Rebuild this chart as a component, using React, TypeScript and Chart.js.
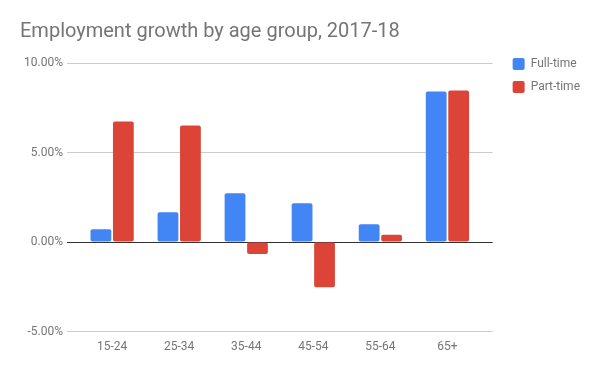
import React, { useEffect, useRef } from "react";
import { Chart, registerables } from "chart.js";

Chart.register(...registerables);

const categories = ["15-24", "25-34", "35-44", "45-54", "55-64", "65+"];
const fullTime = [0.72, 1.67, 2.73, 2.17, 1.0, 8.41];
const partTime = [6.74, 6.51, -0.67, -2.53, 0.41, 8.46];
const yTicks = [-5, 0, 5, 10];

const legendShift = {
  id: "legendShift",
  afterLayout(chart: any) {
    const lg = chart.legend;
    if (!lg) return;
    lg.left += 9;
    lg.right += 9;
    lg.top -= 16;
    lg.bottom -= 16;
  },
};

export default function App() {
  const ref = useRef<HTMLCanvasElement | null>(null);
  useEffect(() => {
    if (!ref.current) return;
    const chart = new Chart(ref.current, {
      type: "bar",
      data: {
        labels: categories,
        datasets: [
          {
            label: "Full-time",
            data: fullTime,
            backgroundColor: "#4285F4",
            borderRadius: 2,
            borderSkipped: false,
            categoryPercentage: 0.67,
            barPercentage: 0.925,
          },
          {
            label: "Part-time",
            data: partTime,
            backgroundColor: "#DB4437",
            borderRadius: 2,
            borderSkipped: false,
            categoryPercentage: 0.67,
            barPercentage: 0.925,
          },
        ],
      },
      plugins: [legendShift],
      options: {
        animation: false,
        responsive: false,
        maintainAspectRatio: false,
        layout: { padding: { left: 20, right: 19, top: 0, bottom: 9 } },
        plugins: {
          title: {
            display: true,
            text: "Employment growth by age group, 2017-18",
            align: "start",
            color: "#757575",
            font: { family: "Roboto", size: 20, weight: "normal" },
            padding: { top: 20, bottom: 19 },
          },
          legend: {
            position: "right",
            align: "start",
            fullSize: false,
            labels: {
              boxWidth: 12,
              boxHeight: 12,
              padding: 11,
              color: "#757575",
              font: { family: "Roboto", size: 12 },
              useBorderRadius: true,
              borderRadius: 2,
            },
          },
          tooltip: { enabled: false },
        },
        scales: {
          x: {
            afterBuildTicks: (s: any) => {
              s._startValue -= 0.174;
              s._valueRange += 0.348;
            },
            grid: { display: false, drawTicks: false },
            border: { display: false },
            ticks: {
              color: "#757575",
              font: { family: "Roboto", size: 12 },
              padding: 8,
            },
          },
          y: {
            min: -5,
            max: 10,
            afterBuildTicks: (axis: any) => {
              axis.ticks = yTicks.map((v) => ({ value: v }));
            },
            grid: {
              color: (ctx: any) => (ctx.tick && ctx.tick.value === 0 ? "#333333" : "#cccccc"),
              drawTicks: false,
            },
            border: { display: false },
            ticks: {
              color: "#757575",
              font: { family: "Roboto", size: 12 },
              padding: 4,
              callback: (v: any) => Number(v).toFixed(2) + "%",
            },
          },
        },
      },
    });
    return () => chart.destroy();
  }, []);
  return (
    <div style={{ position: "fixed", left: 0, top: 0, width: 600, height: 371, background: "#fff" }}>
      <canvas ref={ref} width={600} height={371} style={{ width: 600, height: 371 }} />
    </div>
  );
}
